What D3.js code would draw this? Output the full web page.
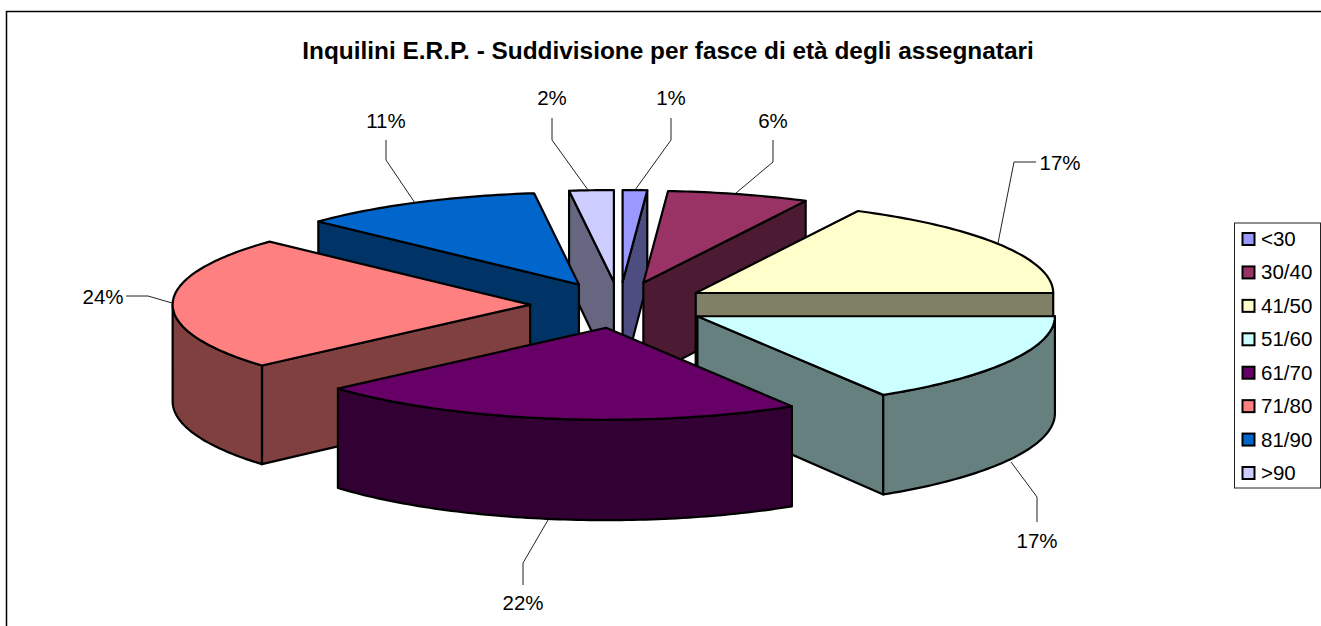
<!DOCTYPE html>
<html><head><meta charset="utf-8">
<script src="https://cdn.jsdelivr.net/npm/d3@7"></script>
<style>
html,body{margin:0;padding:0;background:#fff;overflow:hidden}
svg{display:block}
text{font-family:"Liberation Sans",Arial,sans-serif;fill:#000}
</style></head><body>
<svg id="c" width="1321" height="626"></svg>
<script>
const title = "Inquilini E.R.P. - Suddivisione per fasce di età degli assegnatari";
const categories = ["<30","30/40","41/50","51/60","61/70","71/80","81/90",">90"];
const values = [1.1,6.4,17.5,16.3,22.2,23.5,11.0,2.0];
const percentLabels = ["1%","6%","17%","17%","22%","24%","11%","2%"];
const colors = ["#9999ff","#993366","#ffffcc","#ccffff","#660066","#ff8080","#0066cc","#ccccff"];
const drawOrder = [">90","<30","81/90","30/40","41/50","71/80","51/60","61/70"];
// leader-line layout, per category: elbow and end points, label anchor
const leaders = {
 "<30":{pts:[[635,190],[671,140],[671,118]],lab:[671,105]},
 "30/40":{pts:[[736,193],[773,162],[773,140]],lab:[773,128]},
 "41/50":{pts:[[998,243],[1014,162],[1036,162]],lab:[1060,170]},
 "51/60":{pts:[[1011,462],[1037,497],[1037,522]],lab:[1037,548]},
 "61/70":{pts:[[548,520],[523,563],[523,585]],lab:[523,610]},
 "71/80":{pts:[[172,303],[148,296],[126,296]],lab:[103,304]},
 "81/90":{pts:[[415,203],[386,160],[386,140]],lab:[386,128]},
 ">90":{pts:[[588,190],[552,140],[552,118]],lab:[552,105]}
};
const explode = 0.25;

const svg = d3.select("#c");
const sx = d3.scaleLinear().domain([-1,1]).range([619.5-357.5,619.5+357.5]);
const sy = d3.scaleLinear().domain([-1,1]).range([305-92,305+92]);
const depth = d3.scaleLinear().domain([190,407]).range([93,100]);
const arcs = d3.pie().sort(null).value(d=>d)(values);
const line = d3.line().x(d=>d[0]).y(d=>d[1]);
const darken = c => { const k=d3.rgb(c); return d3.rgb(k.r/2,k.g/2,k.b/2).formatHex(); };
const lower = p => [p[0], p[1]+depth(p[1])];

// frame
svg.append("path").attr("d","M6.5,626V11.5H1321").attr("fill","none").attr("stroke","#000").attr("stroke-width",1.5);

svg.append("text").attr("x",668).attr("y",59).attr("text-anchor","middle")
   .attr("font-weight","bold").attr("font-size",24.4).text(title);

const STEP = Math.PI/180;
function slice(i){
  const a = arcs[i], mid=(a.startAngle+a.endAngle)/2;
  const ox=explode*Math.sin(mid), oy=-explode*Math.cos(mid);
  const P = t => [sx(ox+Math.sin(t)), sy(oy-Math.cos(t))];
  const apex = [sx(ox), sy(oy)];
  const n = Math.max(2,Math.ceil((a.endAngle-a.startAngle)/STEP));
  const rim = d3.range(n+1).map(k=>P(a.startAngle+(a.endAngle-a.startAngle)*k/n));
  const g = svg.append("g").attr("stroke","#000").attr("stroke-width",2.2).attr("stroke-linejoin","round");
  const wall = darken(colors[i]);
  const face = (pts)=>g.append("path").attr("d",line(pts.concat(pts.slice().reverse().map(lower)))+"Z").attr("fill",wall);
  if(a.startAngle>Math.PI) face([rim[0],apex]);
  if(a.endAngle<Math.PI) face([rim[n],apex]);
  const s=Math.max(a.startAngle,Math.PI/2), e=Math.min(a.endAngle,3*Math.PI/2);
  if(e>s){
    const m=Math.ceil((e-s)/STEP);
    const w=d3.range(m+1).map(k=>P(s+(e-s)*k/m));
    face(w);
  }
  g.append("path").attr("d",line([apex,...rim])+"Z").attr("fill",colors[i]);
}
drawOrder.forEach(c=>slice(categories.indexOf(c)));

// leader lines and labels
categories.forEach((c,i)=>{
  const l=leaders[c];
  svg.append("path").attr("d",line(l.pts)).attr("fill","none").attr("stroke","#222").attr("stroke-width",1);
  svg.append("text").attr("x",l.lab[0]).attr("y",l.lab[1]).attr("text-anchor","middle")
     .attr("font-size",20.5).text(percentLabels[i]);
});

// legend
const lg = svg.append("g");
lg.append("rect").attr("x",1234.5).attr("y",223).attr("width",86).attr("height",265)
  .attr("fill","#fff").attr("stroke","#222").attr("stroke-width",1);
const rowY = d3.scalePoint().domain(categories).range([239,473]);
categories.forEach((c,i)=>{
  lg.append("rect").attr("x",1242.5).attr("y",rowY(c)-6).attr("width",12).attr("height",12)
    .attr("fill",colors[i]).attr("stroke","#000").attr("stroke-width",2);
  lg.append("text").attr("x",1261).attr("y",rowY(c)+7).attr("font-size",20.5).text(c);
});
</script>
</body></html>
